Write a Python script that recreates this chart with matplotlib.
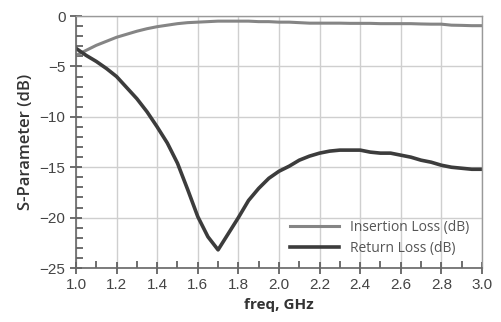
import numpy as np
import matplotlib
matplotlib.use("Agg")
import matplotlib.pyplot as plt
from matplotlib.ticker import MultipleLocator

# frequency points (GHz)
freq = [1.0, 1.05, 1.1, 1.15, 1.2, 1.25, 1.3, 1.35, 1.4, 1.45, 1.5, 1.55, 1.6, 1.65,
        1.7, 1.75, 1.8, 1.85, 1.9, 1.95, 2.0, 2.05, 2.1, 2.15, 2.2, 2.25, 2.3,
        2.35, 2.4, 2.45, 2.5, 2.55, 2.6, 2.65, 2.7, 2.75, 2.8, 2.85, 2.9, 2.95, 3.0]

# insertion loss (dB)
insertion = [-3.9, -3.4, -2.9, -2.5, -2.1, -1.8, -1.5, -1.25, -1.05, -0.9, -0.75, -0.65,
             -0.6, -0.55, -0.5, -0.5, -0.5, -0.5, -0.55, -0.55, -0.6, -0.6, -0.65,
             -0.7, -0.7, -0.7, -0.7, -0.72, -0.72, -0.72, -0.75, -0.75, -0.75, -0.75,
             -0.78, -0.8, -0.8, -0.9, -0.92, -0.95, -0.95]

# return loss (dB)
ret = [-3.2, -3.9, -4.5, -5.2, -6.0, -7.1, -8.2, -9.5, -11.0, -12.6, -14.6, -17.2,
       -19.9, -21.9, -23.2, -21.6, -20.0, -18.3, -17.1, -16.1, -15.4, -14.9,
       -14.3, -13.9, -13.6, -13.4, -13.3, -13.3, -13.3, -13.5, -13.6, -13.6, -13.8,
       -14.0, -14.3, -14.5, -14.8, -15.0, -15.1, -15.2, -15.2]

plt.rcParams['font.family'] = ['Open Sans', 'DejaVu Sans']

fig = plt.figure(figsize=(5.02, 3.22), dpi=100)
ax = fig.add_axes([0.1514, 0.1677, 0.8086, 0.7823])

ax.plot(freq, insertion, color='#858585', lw=2.2, label='Insertion Loss (dB)')
ax.plot(freq, ret, color='#3c3c3c', lw=2.6, label='Return Loss (dB)')

ax.set_xlim(1.0, 3.0)
ax.set_ylim(-25, 0)
ax.xaxis.set_major_locator(MultipleLocator(0.2))
ax.xaxis.set_minor_locator(MultipleLocator(0.1))
ax.yaxis.set_major_locator(MultipleLocator(5))
ax.yaxis.set_minor_locator(MultipleLocator(1))
ax.set_xticklabels([f"{v:.1f}" for v in ax.get_xticks()])

ax.grid(True, which='major', color='#cfcfcf', lw=1.0)
ax.tick_params(which='major', direction='inout', length=8, width=1.2, color='#555555',
               labelsize=11, labelcolor='#444444')
ax.tick_params(which='minor', direction='in', length=5, width=1.2, color='#555555')
ax.tick_params(top=False, right=False, which='both')
for lbl in ax.get_xticklabels() + ax.get_yticklabels():
    lbl.set_family(['Liberation Sans', 'DejaVu Sans'])

for s in ['left', 'bottom']:
    ax.spines[s].set_color('#666666')
    ax.spines[s].set_linewidth(1.2)
for s in ['top', 'right']:
    ax.spines[s].set_color('#999999')
    ax.spines[s].set_linewidth(1.0)

ax.set_xlabel('freq, GHz', fontsize=11, fontweight='bold', color='#333333')
ax.set_ylabel('S-Parameter (dB)', fontsize=12, fontweight='semibold', color='#333333')

leg = ax.legend(loc='lower right', frameon=False, fontsize=10, handlelength=3.5,
                borderaxespad=0.5, labelspacing=0.4)
for t in leg.get_texts():
    t.set_color('#555555')

fig.savefig('out.png', dpi=100)
